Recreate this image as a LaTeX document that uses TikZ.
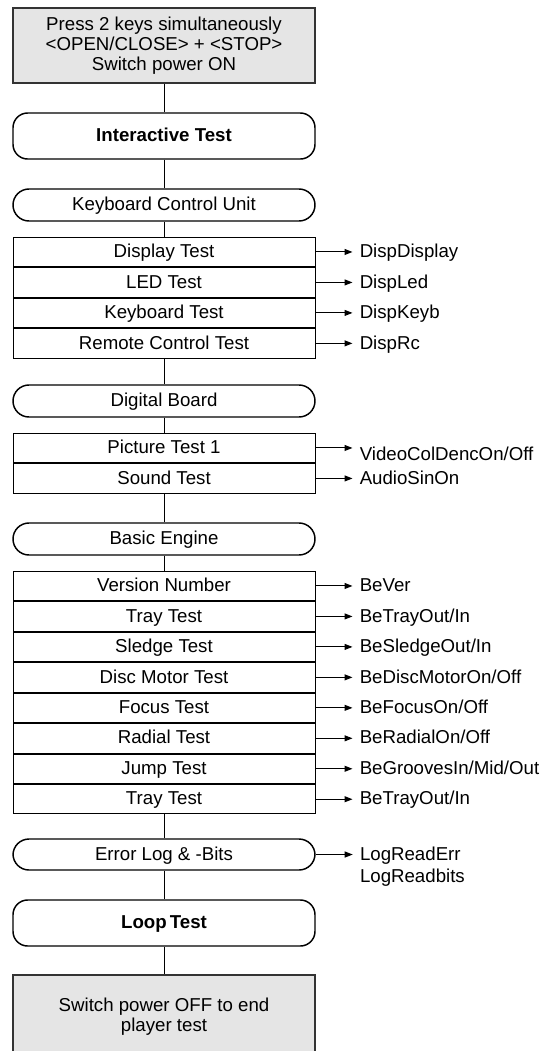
\documentclass[tikz,border=0pt]{standalone}
\usepackage{fontspec}
\setmainfont{Liberation Sans}
\usetikzlibrary{positioning,arrows.meta}

\tikzset{
  greybox/.style={draw=black!80, line width=1.6pt, fill=black!10, minimum width=226.5pt, align=center, inner sep=0pt},
  bigstep/.style={draw, line width=1.1pt, rounded corners=11pt, minimum width=226.5pt, minimum height=34.5pt, text height=8.5pt, text depth=0pt, font=\fontsize{14}{15}\selectfont\bfseries},
  groupbox/.style={draw, line width=1.1pt, rounded corners=12pt, minimum width=226.5pt, minimum height=24pt, text height=8.5pt, text depth=0pt},
  testrow/.style={draw, line width=0.75pt, minimum width=226.5pt, minimum height=22.1pt, inner sep=0pt, text height=8.5pt, text depth=0pt},
  result/.style={anchor=west, inner sep=0pt, text height=8.5pt, text depth=0pt},
  link/.style={line width=0.75pt},
  outarrow/.style={line width=0.75pt, -{Triangle[length=6pt,width=4.5pt]}, shorten >=5.25pt}
}

\begin{document}
\begin{tikzpicture}[x=0.75pt, y=-0.75pt, every node/.style={font=\fontsize{14}{15}\selectfont}]
    \useasboundingbox (0,0) rectangle (547,1051);

    % start and main steps
    \node[greybox, minimum height=56.25pt] (start) at (164,45.5) {Press 2 keys simultaneously\\<OPEN/CLOSE> + <STOP>\\Switch power ON};
    \node[bigstep] (inter) at (164,136) {Interactive Test};

    % keyboard control unit
    \node[groupbox] (kcu) at (164,205) {Keyboard Control Unit};
    \node[testrow, below=11.25pt of kcu] (disp) {Display Test};
    \node[testrow, below=0pt of disp] (led) {LED Test};
    \node[testrow, below=0pt of led] (keyb) {Keyboard Test};
    \node[testrow, below=0pt of keyb] (rc) {Remote Control Test};
    \node[result, right=33pt of disp] (dispdisplay) {DispDisplay};
    \node[result, right=33pt of led] (displed) {DispLed};
    \node[result, right=33pt of keyb] (dispkeyb) {DispKeyb};
    \node[result, right=33pt of rc] (disprc) {DispRc};

    % digital board
    \node[groupbox] (digital) at (164,401) {Digital Board};
    \node[testrow, below=11.25pt of digital] (pict) {Picture Test 1};
    \node[testrow, below=0pt of pict] (sound) {Sound Test};
    \node[result, right=33pt of pict, yshift=-5pt] (video) {VideoColDencOn/Off};
    \node[result, right=33pt of sound] (audio) {AudioSinOn};

    % basic engine
    \node[groupbox] (basic) at (164,539) {Basic Engine};
    \node[testrow, below=11.25pt of basic] (version) {Version Number};
    \node[testrow, below=0pt of version] (tray) {Tray Test};
    \node[testrow, below=0pt of tray] (sledge) {Sledge Test};
    \node[testrow, below=0pt of sledge] (disc) {Disc Motor Test};
    \node[testrow, below=0pt of disc] (focus) {Focus Test};
    \node[testrow, below=0pt of focus] (radial) {Radial Test};
    \node[testrow, below=0pt of radial] (jump) {Jump Test};
    \node[testrow, below=0pt of jump] (traytwo) {Tray Test};
    \node[result, right=33pt of version] (bever) {BeVer};
    \node[result, right=33pt of tray] (betray) {BeTrayOut/In};
    \node[result, right=33pt of sledge] (besledge) {BeSledgeOut/In};
    \node[result, right=33pt of disc] (bedisc) {BeDiscMotorOn/Off};
    \node[result, right=33pt of focus] (befocus) {BeFocusOn/Off};
    \node[result, right=33pt of radial] (beradial) {BeRadialOn/Off};
    \node[result, right=33pt of jump] (begrooves) {BeGroovesIn/Mid/Out};
    \node[result, right=33pt of traytwo] (betraytwo) {BeTrayOut/In};

    % error log, loop and end
    \node[groupbox, minimum height=23.25pt] (errlog) at (164,854.5) {Error Log \& -Bits};
    \node[result, right=33pt of errlog] (logerr) {LogReadErr};
    \node[result, anchor=base west] (logbits) at ([yshift=-16.5pt]logerr.base west) {LogReadbits};
    \node[bigstep] (loop) at (164,923) {Loop\hspace{-1.5pt} Test};
    \node[greybox, minimum height=63pt] (finish) at (164,1017) {Switch power OFF to end\\player test};

    % connectors
    \draw[link] (start) -- (inter);
    \draw[link] (inter) -- (kcu);
    \draw[link] (kcu) -- (disp);
    \draw[link] (rc) -- (digital);
    \draw[link] (digital) -- (pict);
    \draw[link] (sound) -- (basic);
    \draw[link] (basic) -- (version);
    \draw[link] (traytwo) -- (errlog);
    \draw[link] (errlog) -- (loop);
    \draw[link] (loop) -- (finish);

    % outputs
    \draw[outarrow] (disp.east) -- (dispdisplay.west);
    \draw[outarrow] (led.east) -- (displed.west);
    \draw[outarrow] (keyb.east) -- (dispkeyb.west);
    \draw[outarrow] (rc.east) -- (disprc.west);
    \draw[outarrow] (pict.east) -- (pict.east -| video.west);
    \draw[outarrow] (sound.east) -- (audio.west);
    \draw[outarrow] (version.east) -- (bever.west);
    \draw[outarrow] (tray.east) -- (betray.west);
    \draw[outarrow] (sledge.east) -- (besledge.west);
    \draw[outarrow] (disc.east) -- (bedisc.west);
    \draw[outarrow] (focus.east) -- (befocus.west);
    \draw[outarrow] (radial.east) -- (beradial.west);
    \draw[outarrow] (jump.east) -- (begrooves.west);
    \draw[outarrow] (traytwo.east) -- (betraytwo.west);
    \draw[outarrow] (errlog.east) -- (logerr.west);
\end{tikzpicture}
\end{document}
